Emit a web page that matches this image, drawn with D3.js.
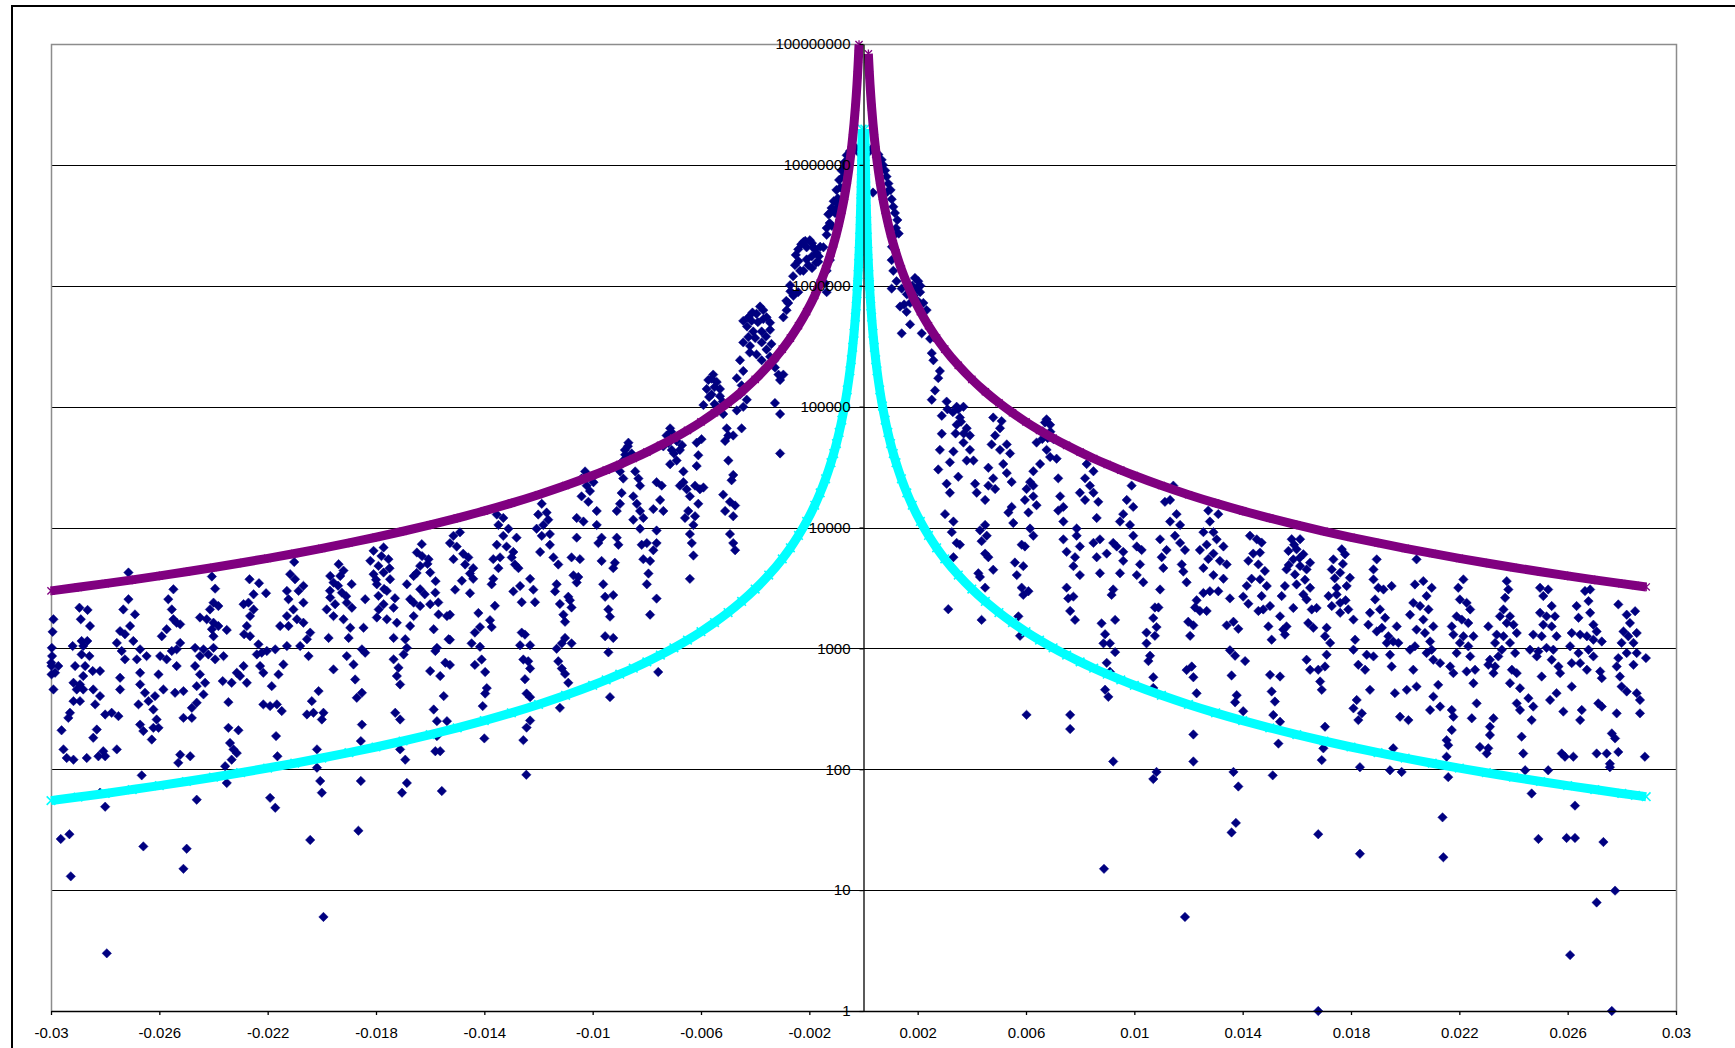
<!DOCTYPE html>
<html><head><meta charset="utf-8">
<script src="https://cdn.jsdelivr.net/npm/d3@7"></script>
<style>html,body{margin:0;padding:0;background:#fff;overflow:hidden;}svg{display:block;}</style>
</head><body><svg id="chart" width="1735" height="1048"></svg>
<script>
const xTickValues=[-0.03,-0.026,-0.022,-0.018,-0.014,-0.01,-0.006,-0.002,0.002,0.006,0.01,0.014,0.018,0.022,0.026,0.03];
const xTickLabels=["-0.03","-0.026","-0.022","-0.018","-0.014","-0.01","-0.006","-0.002","0.002","0.006","0.01","0.014","0.018","0.022","0.026","0.03"];
const yTickValues=[1,10,100,1000,10000,100000,1000000,10000000,100000000];
const yTickLabels=["1","10","100","1000","10000","100000","1000000","10000000","100000000"];

// purple star series (upper curve)
const upperBoundLeft=[[-0.03,2989],[-0.029,3199],[-0.028,3431],[-0.027,3690],[-0.026,3979],[-0.025,4304],[-0.024,4670],[-0.023,5085],[-0.022,5558],[-0.021,6100],[-0.02,6725],[-0.019,7452],[-0.018,8302],[-0.017,9308],[-0.016,10510],[-0.015,11960],[-0.014,13720],[-0.013,15920],[-0.012,18680],[-0.011,22230],[-0.01,26900],[-0.0095,29810],[-0.009,33210],[-0.0085,37230],[-0.008,42030],[-0.0075,47820],[-0.007,54900],[-0.0065,63670],[-0.006,74720],[-0.0055,88930],[-0.005,107600],[-0.0045,132800],[-0.004,168100],[-0.0035,219600],[-0.003,298900],[-0.0027,369000],[-0.0024,467000],[-0.0021,610000],[-0.0018,830200],[-0.0016,1051000],[-0.0014,1372000],[-0.0012,1868000],[-0.0011,2223000],[-0.001,2690000],[-0.0009,3321000],[-0.0008,4203000],[-0.0007,5490000],[-0.0006,7472000],[-0.0005,10760000],[-0.00045,13280000],[-0.0004,16810000],[-0.00035,21960000],[-0.0003,29890000],[-0.00027,36900000],[-0.00024,46700000],[-0.00022,55580000],[-0.0002,67250000],[-0.00019,74520000],[-0.00018,83020000],[-0.00017,93080000],[-0.000165,98810000]];
const upperBoundRight=[[0.00018,83020000],[0.00019,74520000],[0.0002,67250000],[0.00022,55580000],[0.00024,46700000],[0.00027,36900000],[0.0003,29890000],[0.00035,21960000],[0.0004,16810000],[0.00045,13280000],[0.0005,10760000],[0.0006,7472000],[0.0007,5490000],[0.0008,4203000],[0.0009,3321000],[0.001,2690000],[0.0011,2223000],[0.0012,1868000],[0.0014,1372000],[0.0016,1051000],[0.0018,830200],[0.0021,610000],[0.0024,467000],[0.0027,369000],[0.003,298900],[0.0035,219600],[0.004,168100],[0.0045,132800],[0.005,107600],[0.0055,88930],[0.006,74720],[0.0065,63670],[0.007,54900],[0.0075,47820],[0.008,42030],[0.0085,37230],[0.009,33210],[0.0095,29810],[0.01,26900],[0.011,22230],[0.012,18680],[0.013,15920],[0.014,13720],[0.015,11960],[0.016,10510],[0.017,9308],[0.018,8302],[0.019,7452],[0.02,6725],[0.021,6100],[0.022,5558],[0.023,5085],[0.024,4670],[0.025,4304],[0.026,3979],[0.027,3690],[0.028,3431],[0.0285,3312],[0.0289,3221]];

// cyan x series (lower curve)
const lowerBoundLeft=[[-0.03,55],[-0.029,58.9],[-0.028,63.1],[-0.027,67.9],[-0.026,73.2],[-0.025,79.2],[-0.024,85.9],[-0.023,93.6],[-0.022,102.3],[-0.021,112.2],[-0.02,123.8],[-0.019,137.1],[-0.018,152.8],[-0.017,171.3],[-0.016,193.4],[-0.015,220],[-0.014,252.6],[-0.013,292.9],[-0.012,343.8],[-0.011,409.1],[-0.01,495],[-0.0095,548.5],[-0.009,611.1],[-0.0085,685.1],[-0.008,773.4],[-0.0075,880],[-0.007,1010],[-0.0065,1172],[-0.006,1375],[-0.0055,1636],[-0.005,1980],[-0.0045,2444],[-0.004,3094],[-0.0035,4041],[-0.003,5500],[-0.0027,6790],[-0.0024,8594],[-0.0021,11220],[-0.0018,15280],[-0.0016,19340],[-0.0014,25260],[-0.0012,34380],[-0.0011,40910],[-0.001,49500],[-0.0009,61110],[-0.0008,77340],[-0.0007,101000],[-0.0006,137500],[-0.0005,198000],[-0.00045,244400],[-0.0004,309400],[-0.00035,404100],[-0.0003,550000],[-0.00027,679000],[-0.00024,859400],[-0.00022,1023000],[-0.0002,1238000],[-0.00018,1528000],[-0.00016,1934000],[-0.00014,2526000],[-0.00012,3438000],[-0.0001,4950000],[-0.00009,6111000],[-0.00008,7734000],[-0.00007,10100000],[-0.00006,13750000],[-0.00005,19800000]];
const lowerBoundRight=[[0.00005,19800000],[0.00006,13750000],[0.00007,10100000],[0.00008,7734000],[0.00009,6111000],[0.0001,4950000],[0.00012,3438000],[0.00014,2526000],[0.00016,1934000],[0.00018,1528000],[0.0002,1238000],[0.00022,1023000],[0.00024,859400],[0.00027,679000],[0.0003,550000],[0.00035,404100],[0.0004,309400],[0.00045,244400],[0.0005,198000],[0.0006,137500],[0.0007,101000],[0.0008,77340],[0.0009,61110],[0.001,49500],[0.0011,40910],[0.0012,34380],[0.0014,25260],[0.0016,19340],[0.0018,15280],[0.0021,11220],[0.0024,8594],[0.0027,6790],[0.003,5500],[0.0035,4041],[0.004,3094],[0.0045,2444],[0.005,1980],[0.0055,1636],[0.006,1375],[0.0065,1172],[0.007,1010],[0.0075,880],[0.008,773.4],[0.0085,685.1],[0.009,611.1],[0.0095,548.5],[0.01,495],[0.011,409.1],[0.012,343.8],[0.013,292.9],[0.014,252.6],[0.015,220],[0.016,193.4],[0.017,171.3],[0.018,152.8],[0.019,137.1],[0.02,123.8],[0.021,112.2],[0.022,102.3],[0.023,93.6],[0.024,85.9],[0.025,79.2],[0.026,73.2],[0.027,67.9],[0.028,63.1],[0.0285,60.9],[0.0289,59.3]];

// navy diamond series (measured)
const spectrumFarLeft=[[-0.02991,1740],[-0.02994,1370],[-0.02997,1010],[-0.02996,863],[-0.02998,714],[-0.02973,714],[-0.02985,628],[-0.02998,609],[-0.02991,457],[-0.02961,210],[-0.02954,146],[-0.02964,26.5],[-0.02932,29],[-0.02927,13],[-0.02999,761],
[-0.02895,2170],[-0.02865,2080],[-0.0289,1740],[-0.02856,1530],[-0.0292,1045],[-0.02887,1150],[-0.02881,1045],[-0.02866,1150],[-0.02858,863],[-0.02887,891],[-0.02911,714],[-0.02874,714],[-0.02846,649],[-0.02819,649],[-0.02881,590],[-0.02917,519],[-0.02893,503],[-0.02905,457],[-0.02881,457],[-0.02844,457],[-0.02819,403],[-0.02837,344],[-0.02917,366],[-0.02893,366],[-0.0293,293],[-0.02936,266],[-0.028,284],[-0.02776,293],[-0.02751,275],[-0.02831,213],[-0.02844,182],[-0.02942,124],[-0.02917,120],[-0.02868,124],[-0.02825,128],[-0.028,128],[-0.02757,146],[-0.02807,141],[-0.02819,64],[-0.028,49],[-0.02794,3],
[-0.02714,4240],[-0.02714,2550],[-0.02733,2100],[-0.0269,1910],[-0.02745,1390],[-0.02708,1530],[-0.02727,1310],[-0.02757,1110],[-0.02696,1150],[-0.02739,951],[-0.02671,982],[-0.02647,863],[-0.02727,811],[-0.02683,811],[-0.02671,628],[-0.02745,571],[-0.02745,457],[-0.02671,503],[-0.02653,429],[-0.02677,344],[-0.0264,366],[-0.02616,403],[-0.02622,312],[-0.0261,258],[-0.02671,234],[-0.02622,220],[-0.02659,207],[-0.02603,220],[-0.02628,176],[-0.02665,89],[-0.02659,23],
[-0.02548,3080],[-0.02567,2550],[-0.02554,2100],[-0.02548,1740],[-0.02573,1440],[-0.02536,1630],[-0.02523,1580],[-0.02591,1260],[-0.02597,863],[-0.02536,982],[-0.02523,1110],[-0.02554,951],[-0.02573,811],[-0.02603,609],[-0.02585,457],[-0.02536,714],[-0.02542,429],[-0.02511,443],[-0.02511,266],[-0.0248,266],[-0.02523,132],[-0.0253,113],[-0.02486,128],[-0.02462,56],[-0.02499,22],[-0.02511,15],
[-0.02406,3930],[-0.02394,3120],[-0.024,2390],[-0.02413,2100],[-0.02382,2240],[-0.0245,1800],[-0.02425,1740],[-0.024,1630],[-0.02406,1440],[-0.02382,1530],[-0.02351,1420],[-0.024,1260],[-0.02437,982],[-0.02468,1010],[-0.0245,863],[-0.02419,891],[-0.024,1010],[-0.02363,863],[-0.02394,811],[-0.02468,714],[-0.0245,609],[-0.02431,519],[-0.02462,487],[-0.02437,416],[-0.0248,322],[-0.02462,355],[-0.02366,536],[-0.02345,359],[-0.02333,519],[-0.02302,590],[-0.02277,519],[-0.02289,714],[-0.02314,628],[-0.02345,220],[-0.02308,210],[-0.02339,165],[-0.02326,146],[-0.02314,136],[-0.02357,106],[-0.02333,120],[-0.02351,77],
[-0.02267,3730],[-0.02232,3460],[-0.02206,2860],[-0.02252,2800],[-0.02271,2390],[-0.02289,2320],[-0.02252,2100],[-0.02265,1850],[-0.02277,1530],[-0.02287,1310],[-0.02265,1260],[-0.02234,1080],[-0.02222,921],[-0.0224,891],[-0.02203,951],[-0.02172,982],[-0.02228,714],[-0.02216,628],[-0.02142,736],[-0.0216,609],[-0.02185,487],[-0.02216,344],[-0.02191,333],[-0.02166,344],[-0.02148,303],[-0.02169,188],[-0.02164,128],[-0.02191,58],[-0.02172,48],
[-0.02102,5190],[-0.02117,4110],[-0.02099,3730],[-0.02068,3290],[-0.02086,2990],[-0.02129,2990],[-0.02123,2550],[-0.02068,2390],[-0.02105,2100],[-0.02129,1850],[-0.02092,1740],[-0.02154,1530],[-0.02123,1530],[-0.02068,1630],[-0.02043,1350],[-0.02055,1190],[-0.0208,1045],[-0.02129,1045],[-0.02049,863],[-0.02055,284],[-0.02031,293],[-0.02037,366],[-0.02012,443],[-0.01994,293],[-0.02,258],[-0.02018,146],[-0.02018,103],[-0.02006,80],[-0.02,64],[-0.02043,26],[-0.01994,6],
[-0.01938,4970],[-0.01969,3970],[-0.01932,3970],[-0.01957,3500],[-0.01926,2890],[-0.01908,2390],[-0.01969,2630],[-0.01982,2100],[-0.01957,1850],[-0.0192,1740],[-0.01895,1480],[-0.01901,1220],[-0.01975,1220],[-0.01951,2320],[-0.01889,2170],[-0.01846,1480],[-0.01852,982],[-0.0184,921],[-0.01908,863],[-0.01883,736],[-0.01957,670],[-0.01877,553],[-0.01871,390],[-0.01852,429],[-0.01852,234],[-0.01856,171],[-0.01856,80],[-0.01865,31],
[-0.0194,3300],[-0.0191,2700],[-0.0197,3000],[-0.0189,3400],[-0.0192,4400],
[-0.01809,6410],[-0.01772,6830],[-0.01821,5300],[-0.01791,4810],[-0.01754,5470],[-0.01809,4110],[-0.01772,4240],[-0.01748,3730],[-0.01797,3390],[-0.0176,2990],[-0.01791,2720],[-0.0184,2550],[-0.01735,2170],[-0.01772,2320],[-0.01797,1800],[-0.0176,1740],[-0.01723,1630],[-0.01735,1220],[-0.01692,1190],[-0.01686,1010],[-0.01698,891],[-0.01735,811],[-0.01717,692],[-0.01723,590],[-0.01711,503],[-0.01729,293],[-0.01711,258],[-0.01711,146],[-0.01692,120],[-0.01686,77],[-0.01704,64],
[-0.0178,5800],[-0.0175,4600],[-0.018,3700],[-0.0177,3100],[-0.0173,2600],[-0.0179,2100],
[-0.01631,7280],[-0.01649,6210],[-0.01606,5470],[-0.01637,4810],[-0.016,4240],[-0.01661,3970],[-0.01686,3390],[-0.01637,3080],[-0.01581,2890],[-0.01674,2550],[-0.01661,2390],[-0.01637,2240],[-0.016,2320],[-0.01569,1910],[-0.01538,1850],[-0.01661,1850],[-0.01674,1530],[-0.01587,1440],[-0.01532,1190],[-0.01575,1010],[-0.01581,951],[-0.01544,761],[-0.016,649],[-0.01563,590],[-0.0155,403],[-0.01587,312],[-0.01575,250],[-0.01538,250],[-0.01575,188],[-0.01581,141],[-0.01563,141],[-0.01557,66],
[-0.0163,5800],[-0.0161,5000],[-0.0165,4200],[-0.0158,3600],[-0.0162,2800],[-0.0157,2400]];

const spectrumNearLeft=[[-0.01514,8530],[-0.0149,9120],[-0.01527,7430],[-0.01502,6950],[-0.01478,6060],[-0.01459,5660],[-0.01514,5470],[-0.01471,4940],[-0.01441,4610],[-0.01453,4160],[-0.01483,3630],[-0.01441,3760],[-0.01508,3060],[-0.01453,2860],[-0.01422,1960],[-0.01416,1500],[-0.01435,1350],[-0.01447,1100],[-0.01416,1030],[-0.01435,730],[-0.0141,809],[-0.01397,637],[-0.01391,469],[-0.01397,423],[-0.01406,333],[-0.014,180],[-0.01527,1900],[-0.01527,1180],[-0.01527,730],
[-0.01354,12800],[-0.0133,12000],[-0.01348,10500],[-0.01311,9770],[-0.0133,8530],[-0.01281,8240],[-0.01354,7190],[-0.01318,6950],[-0.01293,6270],[-0.01342,5660],[-0.01367,5470],[-0.01299,5660],[-0.01287,4940],[-0.01348,4610],[-0.01274,4610],[-0.01367,3760],[-0.01373,3390],[-0.01293,2960],[-0.01268,3280],[-0.01231,3760],[-0.01361,2250],[-0.01219,3060],[-0.01213,2410],[-0.01262,2410],[-0.01379,1710],[-0.01373,1500],[-0.01262,1350],[-0.0125,1300],[-0.01231,1060],[-0.01268,1060],[-0.01256,809],[-0.01238,782],[-0.01231,682],[-0.0125,556],[-0.01244,423],[-0.01231,395],[-0.01231,253],[-0.01244,221],[-0.01256,174],[-0.01245,90],
[-0.01188,15700],[-0.01201,12800],[-0.0117,13300],[-0.01164,11600],[-0.01182,10500],[-0.01207,9770],[-0.01158,8820],[-0.01188,8530],[-0.01158,7190],[-0.01194,6270],[-0.01145,5660],[-0.01127,4940],[-0.01133,3390],[-0.01139,2960],[-0.01121,2330],[-0.01108,1900],[-0.01102,1660],[-0.01133,993],[-0.01114,1100],[-0.01102,1220],[-0.01078,1100],[-0.01127,782],[-0.01114,682],[-0.01102,615],[-0.0109,519],[-0.01121,322],
[-0.01028,29100],[-0.01041,25400],[-0.01022,22200],[-0.00997,23700],[-0.0101,20000],[-0.01041,18100],[-0.01016,16300],[-0.00985,13700],[-0.01059,12000],[-0.01034,11200],[-0.01059,8240],[-0.00985,10500],[-0.00967,8240],[-0.00979,7430],[-0.01078,5660],[-0.01047,5470],[-0.01071,4020],[-0.01053,3890],[-0.01059,3510],[-0.0109,2670],[-0.01084,2500],[-0.01078,2180],[-0.00967,5290],[-0.00961,3390],[-0.00954,2670],[-0.00942,2100],[-0.00924,2760],[-0.00936,1830],[-0.00954,1260],[-0.00924,1220],[-0.00942,927],[-0.00936,395],[-0.00911,8240],[-0.00905,7190],[-0.00918,5110],[-0.00924,4610],
[-0.00868,50300],[-0.00881,43800],[-0.00856,41000],[-0.00887,35800],[-0.00899,29100],[-0.00887,25400],[-0.00893,19300],[-0.00899,15700],[-0.00911,13700],[-0.00843,29100],[-0.00831,25400],[-0.00825,22200],[-0.0085,18100],[-0.00837,15700],[-0.00825,13700],[-0.0085,11600],[-0.00813,12000],[-0.00825,9770],[-0.00819,7190],[-0.008,7430],[-0.00788,5290],[-0.00776,6490],[-0.00764,7430],[-0.00764,9440],[-0.00794,4160],[-0.008,3390],[-0.00764,2580],[-0.00788,1900],[-0.00758,637],[-0.00776,14200],[-0.00751,16900],[-0.00739,13700],[-0.00764,23700],[-0.00745,22200],[-0.00813,5470],
[-0.0087,47000],[-0.0086,39000],[-0.0088,40000],
[-0.00714,66100],[-0.00727,57700],[-0.00739,46900],[-0.00708,43800],[-0.00678,43800],[-0.0069,35800],[-0.00714,33400],[-0.00665,29100],[-0.00665,23700],[-0.00678,22200],[-0.00653,20700],[-0.00641,18100],[-0.00647,13700],[-0.00659,12000],[-0.00622,12400],[-0.00628,10500],[-0.00641,8820],[-0.00634,7430],[-0.00628,5860],[-0.00641,3760],[-0.00616,50300],[-0.00598,53800],[-0.0061,39600],[-0.00616,32300],[-0.00622,22200],[-0.00604,20700],[-0.0061,15700],[-0.00591,21400],[-0.00555,184000],[-0.00573,166000],[-0.00542,160000],[-0.00579,140000],[-0.00561,126000],[-0.0053,122000],[-0.00591,103000],[-0.00542,99600],[-0.00518,86800],[-0.00505,66100],[-0.00511,52000],[-0.00499,57700],[-0.00481,57700],[-0.00499,35800],[-0.00481,27200],[-0.00487,24600],[-0.00518,18700],[-0.00493,16300],[-0.00474,15200],[-0.00511,13700],[-0.00481,12400],[-0.00493,8820],[-0.00481,7430],[-0.00474,6490],
[-0.0071,62000],[-0.0069,52000],[-0.0072,50000],[-0.0067,48000],[-0.007,41000],[-0.0056,170000],[-0.0055,145000],[-0.0053,140000],[-0.0057,120000],[-0.0052,110000],[-0.0055,105000],
[-0.00456,242000],[-0.00444,197000],[-0.00468,172000],[-0.0045,150000],[-0.00456,126000],[-0.00431,114000],[-0.00444,99600],[-0.00468,93000],[-0.0045,66100],[-0.00444,512000],[-0.00425,548000],[-0.00413,512000],[-0.00395,587000],[-0.00382,673000],[-0.0037,628000],[-0.00358,548000],[-0.00345,495000],[-0.00345,432000],[-0.00376,418000],[-0.00407,418000],[-0.00425,377000],[-0.00444,340000],[-0.00419,318000],[-0.00376,340000],[-0.00358,297000],[-0.00345,259000],[-0.00376,242000],[-0.00327,211000],[-0.00314,184000],[-0.00296,184000],[-0.00308,166000],[-0.00327,107000],[-0.00308,86800],[-0.00308,41000],
[-0.0043,460000],[-0.0041,600000],[-0.0039,500000],[-0.0037,530000],[-0.004,370000],[-0.0036,380000],[-0.0034,330000],[-0.0042,280000],[-0.00395,270000],[-0.0033,240000],
[-0.00296,548000],[-0.00284,628000],[-0.00278,720000],[-0.00259,826000],[-0.00271,1010000],[-0.00241,885000],[-0.00234,1330000],[-0.00253,1480000],[-0.00241,2000000],[-0.00222,2300000],[-0.00198,2380000],[-0.0021,2080000],[-0.00185,2080000],[-0.00191,1750000],[-0.00173,1870000],[-0.00167,1580000],[-0.00204,1480000],[-0.00222,1330000],[-0.00142,1050000],[-0.00136,885000],[-0.00136,1330000],[-0.00124,1630000],[-0.00148,2080000],[-0.00136,2640000],[-0.00117,3130000],[-0.00124,3970000],[-0.00105,4250000],[-0.00093,4710000],[-0.00081,4880000],
[-0.0023,2200000],[-0.00215,2350000],[-0.0019,2250000],[-0.0018,2000000],[-0.00165,1750000],[-0.0016,2100000],[-0.0025,1800000],[-0.0024,1600000],[-0.0021,1650000],[-0.0019,1400000],[-0.00175,1550000],[-0.0026,1200000],[-0.00285,750000],[-0.0027,900000]];

const spectrumPeak=[[-0.0005,13000000],[-0.00038,13500000],[-0.00025,13700000],[-0.0001,13000000],[0.00012,13200000],[0.0003,13600000],[0.00042,13000000],[0.00055,12200000],[-0.00062,12000000],[0.00067,11000000],[-0.0007,10500000],[-0.00045,12500000],[-0.0002,12800000],[0.00002,13400000],[0.0002,12800000],[0.0005,11500000],[-0.00055,11000000],
[-0.00081,9000000],[-0.00075,8000000],[-0.0009,7500000],[-0.00085,6500000],[-0.001,6200000],[-0.00095,5300000],[-0.0011,5000000],[-0.00118,4400000],[-0.00105,4000000],[-0.0013,3900000],[-0.00125,3300000],[-0.00136,3000000],[-0.0007,9500000],[-0.00065,10000000],
[0.00072,10000000],[0.0008,9000000],[0.00085,8000000],[0.00092,7000000],[0.00088,6000000],[0.001,6200000],[0.00104,5200000],[0.0011,4500000],[0.00116,4000000],[0.00125,3500000],[0.0012,3000000],[0.00035,5900000],[0.0013,2700000],[0.00112,2600000],[0.00105,2100000]];

const spectrumNearRight=[[0.00104,1630000],[0.0011,1330000],[0.00104,947000],[0.00122,1090000],[0.00141,947000],[0.00135,673000],[0.00159,608000],[0.00172,721000],[0.0019,1160000],[0.00202,1090000],[0.00209,885000],[0.00221,721000],[0.00233,629000],[0.00172,479000],[0.00141,404000],[0.00215,404000],[0.00246,364000],[0.00252,277000],[0.00258,242000],[0.00282,197000],[0.00276,172000],[0.00264,136000],[0.00252,114000],
[0.0018,1000000],[0.00195,950000],[0.0021,1000000],[0.00185,830000],[0.0016,850000],[0.0015,700000],[0.002,750000],
[0.00307,110000],[0.00289,84000],[0.00344,99700],[0.00369,99700],[0.00356,81200],[0.00381,66200],[0.00344,70800],[0.00393,57700],[0.00369,50400],[0.00393,43900],[0.00406,35800],[0.00381,35800],[0.00289,59700],[0.00282,43900],[0.00332,42500],[0.00276,30200],[0.00319,34600],[0.0035,26300],[0.00307,23000],[0.00319,19400],[0.00301,12900],[0.00332,11200],[0.00326,9150],[0.00344,7460],[0.00332,5680],[0.00356,7210],[0.00313,2110],[0.00412,23000],[0.00418,19400],[0.00449,16900],
[0.0033,90000],[0.0035,95000],[0.0036,75000],[0.0034,60000],[0.0037,60000],[0.0031,95000],
[0.00479,81200],[0.0051,75900],[0.00486,57700],[0.00473,48700],[0.00504,43900],[0.00529,48700],[0.00541,41000],[0.00516,33500],[0.00529,28200],[0.00461,31200],[0.00479,25500],[0.00461,22200],[0.00486,20800],[0.00547,23800],[0.00504,66200],
[0.00449,10500],[0.0043,9470],[0.00455,8550],[0.00436,7710],[0.00449,6080],[0.00461,5680],[0.00479,4470],[0.00424,4180],[0.0043,3900],[0.00449,3180],[0.00436,1720],
[0.00547,14800],[0.00553,10900],[0.00535,13300],[0.00602,20800],[0.00627,18100],[0.00639,15300],[0.00596,16900],[0.00609,13300],[0.00627,8550],[0.00615,9800],[0.00584,7210],[0.00596,6970],[0.00559,5130],[0.0059,4790],[0.00566,4040],[0.00584,3180],[0.0059,2770],[0.00609,2970],[0.00572,1840],[0.00578,1270],[0.00602,282],
[0.00676,78500],[0.00689,70800],[0.00664,61800],[0.00639,50400],[0.00701,53900],[0.00676,43900],[0.00689,38300],[0.00652,33500],[0.00627,29200],[0.00713,37100],[0.00719,25500],[0.00627,22200],[0.00615,23800],
[0.0067,74000],[0.0069,62000],[0.0068,55000],[0.0066,54000],
[0.00726,18100],[0.00738,14800],[0.00719,13800],[0.00738,11200],[0.00738,7980],[0.0075,6290],[0.00787,9800],[0.00787,8550],[0.00799,6970],[0.00781,5680],[0.00775,4790],[0.00799,4040],[0.0075,3180],[0.00756,2590],[0.00775,2680],[0.00763,2040],[0.00781,1720],[0.00763,282],[0.00763,215],[0.00824,33500],[0.00849,29200],[0.00818,25500],[0.00836,22200],[0.00799,19400],[0.00818,16900],[0.00849,19400],[0.00867,16300],[0.00861,12000],[0.00849,7460],[0.00873,7980],[0.00861,5680],[0.00873,4180],[0.00898,6080],[0.00922,7460],
[0.00879,1610],[0.00892,1310],[0.0091,1100],[0.00929,1720],[0.00886,1100],[0.00929,931],[0.00898,759],[0.0091,640],[0.00892,455],[0.00904,397],[0.00922,116],[0.00888,15],
[0.0099,22200],[0.00972,16900],[0.00996,14800],[0.00959,12900],[0.00984,10500],[0.00947,11200],[0.00935,6970],[0.00959,6290],[0.00996,8550],[0.01009,6970],[0.01027,6510],[0.01021,4950],[0.00959,5300],[0.00947,4180],[0.00922,3070],[0.00916,2770],[0.01009,4040],[0.01033,3520],
[0.01076,2180],[0.0107,1780],[0.01082,1500],[0.01076,1270],[0.01045,1350],[0.01045,1100],[0.01058,869],[0.01052,785],[0.0107,577],[0.0107,471],[0.01082,95],[0.0107,83],[0.01095,3070],[0.01089,2180],[0.01107,4620],
[0.01144,22200],[0.01132,16900],[0.01113,16300],[0.01156,12900],[0.01132,11200],[0.01169,10500],[0.0115,8550],[0.01095,7980],[0.01119,6510],[0.01169,7460],[0.01187,6510],[0.01175,4950],[0.01101,5680],[0.01181,4320],[0.01193,3520],[0.01224,2180],[0.01218,1550],[0.01199,1660],[0.01206,1270],[0.01193,662],[0.01212,708],[0.01218,577],[0.0123,425],[0.01218,194],[0.01218,116],[0.01187,6],
[0.01273,13800],[0.0131,12900],[0.01279,11200],[0.01255,9150],[0.01292,9150],[0.01304,7980],[0.01267,7210],[0.01329,6970],[0.01242,6510],[0.01292,6080],[0.01316,5300],[0.01341,4950],[0.01273,5490],[0.01255,4620],[0.01292,4040],[0.01329,3770],[0.01255,2870],[0.01279,2970],[0.0131,2970],[0.0123,2500],[0.01242,2040],[0.01267,2040],[0.01353,2590],[0.01341,1550],[0.01366,1660],[0.01384,1450],[0.01353,964],[0.01372,869],[0.01409,785],[0.01359,597],[0.01378,410],[0.01372,358],[0.01402,302],[0.01366,95],[0.01384,72],[0.01359,30],[0.01375,36],
[0.01427,8550],[0.01452,7980],[0.01439,6080],[0.01421,5300],[0.01458,4950],[0.01433,3770],[0.01415,3290],[0.01402,2680],[0.01421,2340],[0.01458,2040]];

const spectrumFarRight=[[0.0147,7500],[0.01464,6200],[0.01482,4370],[0.01464,3720],[0.01489,3280],[0.0147,2710],[0.01501,2240],[0.01476,2100],[0.01495,1520],[0.01507,1180],[0.01501,604],[0.01538,585],[0.01507,440],[0.01519,363],[0.01513,281],[0.01538,247],[0.01532,163],[0.01511,89],[0.0155,1430],[0.01562,1520],[0.01538,1840],[0.01556,1300],
[0.01581,8000],[0.01612,8000],[0.01599,6600],[0.01569,6400],[0.01587,5450],[0.01624,6000],[0.01649,5120],[0.01612,4800],[0.01562,4500],[0.01636,4500],[0.01593,4090],[0.01556,3280],[0.01599,3380],[0.01649,3170],[0.01624,2790],[0.01544,2710],[0.01587,2160],[0.01636,2540],[0.01673,2160],[0.01655,2100],[0.01642,1620],[0.01661,1480],[0.0171,1480],[0.01704,1260],[0.01723,1110],[0.0171,886],[0.01636,805],[0.01649,665],[0.01679,665],[0.01704,708],[0.01686,532],[0.01692,454],[0.01704,225],[0.01692,119],[0.01679,29],[0.01679,1],
[0.0159,7200],[0.0161,5600],[0.0157,4900],[0.0163,3700],
[0.01735,5450],[0.01766,6600],[0.01778,6000],[0.01729,4500],[0.0176,4230],[0.01796,3840],[0.01747,3170],[0.01784,3280],[0.01717,2710],[0.01747,2790],[0.0176,2380],[0.0179,2100],[0.01729,2240],[0.0176,1970],[0.01809,1730],[0.01815,1180],[0.01809,975],[0.01827,731],[0.01852,665],[0.01858,886],[0.01883,858],[0.01821,374],[0.01809,319],[0.0184,290],[0.01827,255],[0.01833,104],[0.01833,20],[0.01698,149],
[0.0177,5000],[0.0174,3800],[0.0178,2500],
[0.01895,5450],[0.01883,4500],[0.01883,3720],[0.01901,3170],[0.0192,3070],[0.01889,2540],[0.01907,2100],[0.01926,1790],[0.0187,1970],[0.01864,1570],[0.01895,1380],[0.01914,1480],[0.0195,3280],[0.01938,1260],[0.01956,1140],[0.01975,1110],[0.01932,1110],[0.01944,886],[0.0195,708],[0.01969,1520],[0.01962,426],[0.02006,454],[0.01981,272],[0.02012,255],[0.01956,149],[0.01944,98],[0.01987,95],[0.0187,454],
[0.02042,5450],[0.02036,3380],[0.02067,3600],[0.02098,3170],[0.0203,2380],[0.02055,2240],[0.02079,2710],[0.02086,2100],[0.02067,1730],[0.02104,1520],[0.02042,1430],[0.02018,1900],[0.02073,1340],[0.02092,1140],[0.02018,975],[0.02036,1040],[0.02079,915],[0.02104,805],[0.02129,755],[0.02098,975],[0.0203,665],[0.02042,483],[0.02122,499],[0.02104,399],[0.02129,330],[0.02092,309],[0.02172,309],[0.02178,272],[0.02172,211],[0.02153,174],[0.02159,158],[0.02153,127],[0.02159,86],[0.02138,40],[0.02141,18.7],
[0.02215,3720],[0.02196,3170],[0.02202,2540],[0.02227,2380],[0.0224,2100],[0.0219,1840],[0.02209,1730],[0.02233,1620],[0.02172,1520],[0.02178,1300],[0.02215,1260],[0.02252,1260],[0.02202,1110],[0.02233,1040],[0.0219,915],[0.0224,858],[0.02166,708],[0.02178,624],[0.02227,644],[0.02258,665],[0.02252,515],[0.02264,351],[0.02246,264],[0.02276,153],[0.02301,135],[0.02307,149],[0.02313,192],[0.02313,225],[0.02326,264],[0.02307,1520],[0.02313,805],[0.02326,624],[0.02307,731],
[0.02375,3600],[0.02381,3070],[0.02369,2620],[0.02363,2100],[0.0235,1840],[0.02387,1840],[0.02375,1620],[0.024,1570],[0.02338,1300],[0.02363,1260],[0.02412,1340],[0.02332,1110],[0.02357,975],[0.02387,1110],[0.02406,915],[0.02344,858],[0.02394,665],[0.02412,624],[0.02332,708],[0.02387,515],[0.02424,468],[0.02412,351],[0.02424,309],[0.02455,387],[0.02473,330],[0.02467,255],[0.0243,186],[0.02436,135],[0.02443,98],[0.02467,63],[0.02492,26.5],
[0.02498,3170],[0.02528,3070],[0.0251,2710],[0.02541,2240],[0.02498,1970],[0.02522,1840],[0.02553,1840],[0.0251,1570],[0.02541,1520],[0.02473,1300],[0.02504,1260],[0.02559,1260],[0.02461,975],[0.02492,944],[0.02522,1010],[0.02547,975],[0.02486,858],[0.02541,805],[0.02566,708],[0.02572,624],[0.02504,585],[0.02535,374],[0.02559,426],[0.02584,300],[0.02578,135],[0.0259,127],[0.02621,127],[0.02528,98],
[0.02664,2980],[0.02683,3070],[0.02633,2240],[0.02677,2460],[0.02683,1970],[0.0264,1790],[0.02695,1570],[0.02707,1380],[0.02615,1340],[0.02646,1300],[0.02671,1260],[0.02695,1180],[0.02726,1140],[0.02609,1040],[0.0264,915],[0.02677,975],[0.02695,858],[0.02615,755],[0.02646,755],[0.02671,665],[0.0272,644],[0.02726,567],[0.02615,483],[0.02652,309],[0.02646,255],[0.02713,351],[0.02726,330],[0.02707,135],[0.02744,135],[0.02756,104],[0.02627,50],[0.02596,27],[0.02627,27],[0.02732,25],[0.02609,2.9],[0.02707,7.9],[0.02775,9.9],
[0.02787,2310],[0.02818,1900],[0.02849,2030],[0.0283,1620],[0.02806,1380],[0.02855,1340],[0.02824,1260],[0.02799,1110],[0.02843,1110],[0.02855,915],[0.02818,915],[0.02787,831],[0.02889,831],[0.02843,731],[0.02781,708],[0.02793,585],[0.02799,483],[0.02818,440],[0.02855,426],[0.02867,374],[0.02781,290],[0.02867,290],[0.02763,198],[0.02775,180],[0.02787,139],[0.02756,111],[0.02885,127],[0.02763,1]];

// ---------- drawing ----------
const W=1735,H=1048;
const plot={left:51,right:1676,top:44,bottom:1011};
const FONT='"Liberation Sans", Arial, Helvetica, sans-serif';
const svg=d3.select('#chart');
svg.append('rect').attr('width',W).attr('height',H).attr('fill','#fff');
svg.append('rect').attr('x',12).attr('y',6).attr('width',W+60).attr('height',H+60)
  .attr('fill','none').attr('stroke','#000').attr('stroke-width',2);

const x=d3.scaleLinear().domain([-0.03,0.03]).range([plot.left,plot.right]);
const y=d3.scaleLog().domain([1,1e8]).range([plot.bottom,plot.top]);

// horizontal gridlines
svg.append('g').selectAll('line').data(yTickValues.filter(v=>v>1&&v<1e8)).join('line')
  .attr('x1',plot.left).attr('x2',plot.right)
  .attr('y1',d=>Math.round(y(d))+0.5).attr('y2',d=>Math.round(y(d))+0.5)
  .attr('stroke','#000').attr('stroke-width',1);

// plot-area border (grey)
svg.append('path')
  .attr('d',`M${plot.left+0.5},${plot.bottom}V${plot.top+0.5}H${plot.right+0.5}V${plot.bottom}`)
  .attr('fill','none').attr('stroke','#8c8c8c').attr('stroke-width',1.5);

const pos=d=>`translate(${x(d[0])},${y(d[1])})`;
const diamond='M0,-4.7L4.7,0L0,4.7L-4.7,0Z';
const star='M-3.6,-3.6L3.6,3.6M-3.6,3.6L3.6,-3.6M0,-4.3L0,4.3';
const cross='M-4.3,-4.3L4.3,4.3M-4.3,4.3L4.3,-4.3';

// navy measured diamonds
const measured=[...spectrumFarLeft,...spectrumNearLeft,...spectrumPeak,...spectrumNearRight,...spectrumFarRight];
svg.append('g').selectAll('path').data(measured).join('path')
  .attr('d',diamond).attr('transform',pos)
  .attr('fill','#000080').attr('stroke','#000080').attr('stroke-width',0.5);

const line=d3.line().x(d=>x(d[0])).y(d=>y(d[1])).curve(d3.curveMonotoneX);

// cyan lower curve (dense x markers)
const gLow=svg.append('g');
[lowerBoundLeft,lowerBoundRight].forEach(s=>{
  gLow.append('path').datum(s).attr('d',line).attr('fill','none')
    .attr('stroke','#00ffff').attr('stroke-width',9);
  gLow.append('g').selectAll('path').data(s).join('path').attr('d',cross).attr('transform',pos)
    .attr('fill','none').attr('stroke','#00ffff').attr('stroke-width',1.6);
});

// purple upper curve (dense star markers)
const gUp=svg.append('g');
[upperBoundLeft,upperBoundRight].forEach(s=>{
  gUp.append('path').datum(s).attr('d',line).attr('fill','none')
    .attr('stroke','#800080').attr('stroke-width',9);
  gUp.append('g').selectAll('path').data(s).join('path').attr('d',star).attr('transform',pos)
    .attr('fill','none').attr('stroke','#800080').attr('stroke-width',1.3);
});

// axes
const xAxis=d3.axisBottom(x).tickValues(xTickValues)
  .tickFormat(d=>xTickLabels[xTickValues.indexOf(d)])
  .tickSize(4).tickSizeOuter(0).tickPadding(12);
const gx=svg.append('g').attr('transform',`translate(0,${plot.bottom})`).call(xAxis);
gx.attr('font-size',15).attr('font-family',FONT);
gx.select('.domain').attr('stroke','#000').attr('stroke-width',1.5);
gx.selectAll('.tick line').attr('stroke','#000').attr('stroke-width',1.3);
gx.selectAll('.tick text').attr('fill','#000');

const yAxis=d3.axisLeft(y).tickValues(yTickValues)
  .tickFormat(d=>yTickLabels[yTickValues.indexOf(d)])
  .tickSize(4).tickSizeOuter(0).tickPadding(9);
const gy=svg.append('g').attr('transform',`translate(${x(0)},0)`).call(yAxis);
gy.attr('font-size',15).attr('font-family',FONT);
gy.select('.domain').attr('stroke','#000').attr('stroke-width',1.3);
gy.selectAll('.tick line').attr('stroke','#000').attr('stroke-width',1.2);
gy.selectAll('.tick text').attr('fill','#000');
</script>
</body></html>
